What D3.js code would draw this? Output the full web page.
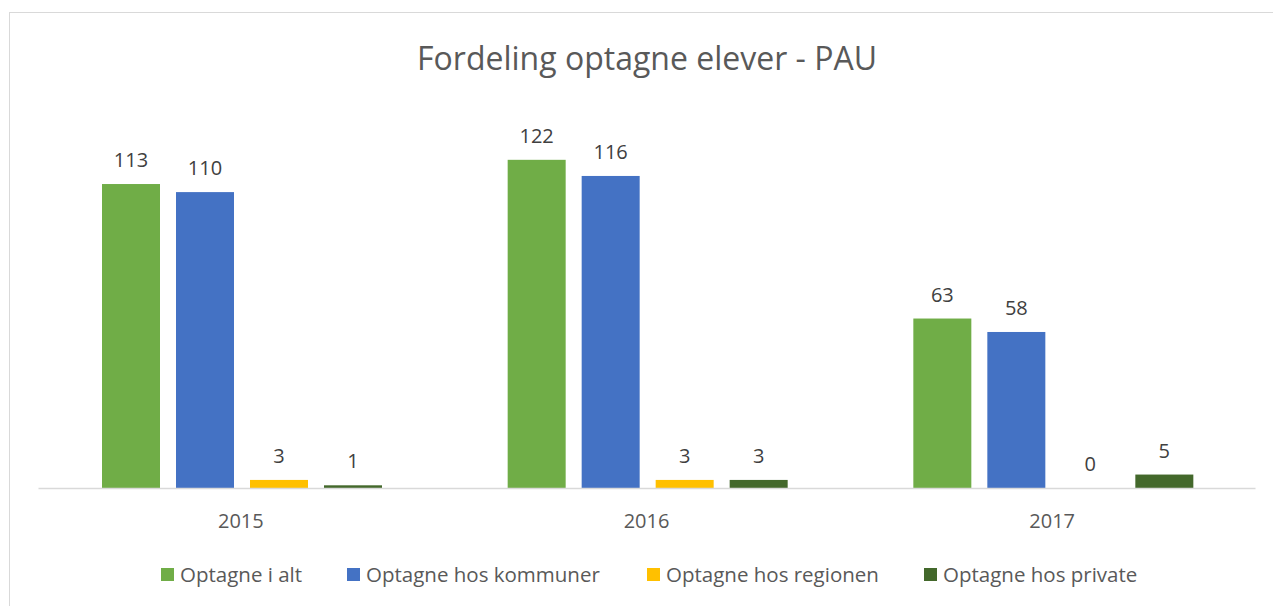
<!DOCTYPE html>
<html><head><meta charset="utf-8">
<script src="https://cdn.jsdelivr.net/npm/d3@7"></script>
<style>body{margin:0;background:#fff}svg{display:block}text{font-family:"Open Sans",sans-serif;fill:#595959}</style>
</head><body><svg id="c" width="1273" height="606"></svg>
<script>
const categories = ["2015","2016","2017"];
const seriesNames = ["Optagne i alt","Optagne hos kommuner","Optagne hos regionen","Optagne hos private"];
const seriesColors = ["#70AD47","#4472C4","#FFC000","#43682B"];
const values = [
  [113,122,63],
  [110,116,58],
  [3,3,0],
  [1,3,5]
];
const chartTitle = "Fordeling optagne elever - PAU";

(function(){
const svg = d3.select("#c");
svg.append("rect").attr("x",9.5).attr("y",12.5).attr("width",1280).attr("height",620)
  .attr("fill","#fff").attr("stroke","#d9d9d9");

const plotLeft=38, plotRight=1255, base=488, plotTop=111.4;
const x0 = d3.scaleBand().domain(categories).range([plotLeft,plotRight]).paddingInner(0).paddingOuter(0);
const x1 = d3.scaleBand().domain(d3.range(seriesNames.length)).range([64,64+4*58+3*16]).paddingInner(16/74).paddingOuter(0);
const y = d3.scaleLinear().domain([0,140]).range([base,plotTop]);

svg.append("text").attr("x",647).attr("y",70).attr("text-anchor","middle")
  .style("font-size","32px").text(chartTitle);

const g = svg.append("g");
categories.forEach((c,ci)=>{
  seriesNames.forEach((s,si)=>{
    const v = values[si][ci];
    const bx = x0(c)+x1(si);
    g.append("rect").attr("x",bx).attr("y",y(v)).attr("width",x1.bandwidth())
      .attr("height",base-y(v)).attr("fill",seriesColors[si]);
    g.append("text").attr("x",bx+x1.bandwidth()/2).attr("y",y(v)-17)
      .attr("text-anchor","middle").style("font-size","20px").style("fill","#404040").text(v);
  });
});

const axis = d3.axisBottom(x0).tickSize(0).tickPadding(0);
const ag = svg.append("g").attr("transform",`translate(0,${base})`).call(axis);
ag.select(".domain").attr("stroke","#d9d9d9").attr("stroke-width",1.5);
ag.selectAll("text").attr("dy",null).attr("y",40).style("font-size","20px").style("font-family","'Open Sans',sans-serif").style("fill","#595959");

const legX = [161,347,647,924];
const lg = svg.append("g");
seriesNames.forEach((s,i)=>{
  lg.append("rect").attr("x",legX[i]).attr("y",568).attr("width",13).attr("height",13).attr("fill",seriesColors[i]);
  lg.append("text").attr("x",legX[i]+19).attr("y",582).style("font-size","20.5px").text(s);
});
})();
</script></body></html>
